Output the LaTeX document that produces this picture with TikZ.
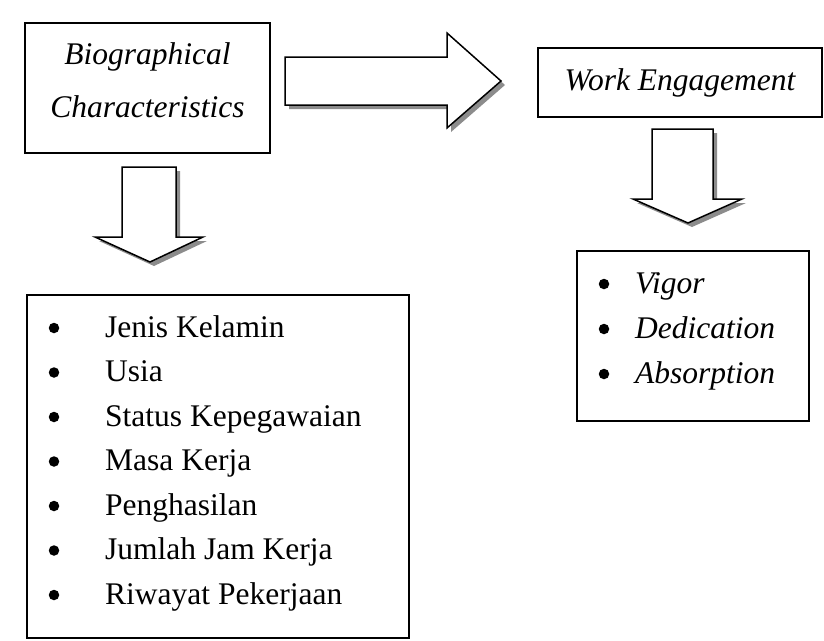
\documentclass[tikz,border=0pt]{standalone}
\usepackage{fontspec}
\setmainfont{Liberation Serif}
\tikzset{
  box/.style={draw, line width=1.5pt, fill=white, inner sep=0pt},
  bigarrow/.style={draw, line width=1.5pt, fill=white, line join=miter},
  arrowshadow/.style={fill=black!45},
  itemtext/.style={anchor=base west, inner sep=0pt, font=\fontsize{31.5}{45}\selectfont},
  itemdot/.style={circle, fill=black, inner sep=0pt, minimum size=10.5pt},
}
\begin{document}
\begin{tikzpicture}[x=1pt, y=-1pt]

  % background
  \fill[white] (0,0) rectangle (824,640);
  \useasboundingbox (0,0) rectangle (824,640);

  % 1. boxes
  \node[box, minimum width=245pt, minimum height=130pt] (bio) at (147.5,88) {};
  \node[align=center, inner sep=0pt,
        font=\fontsize{31.5}{53}\selectfont\itshape] (biotext) at (147.5,80)
        {Biographical\\Characteristics};
  \node[box, minimum width=284pt, minimum height=69pt,
        font=\fontsize{31.5}{45}\selectfont\itshape] (work) at (680,82.5)
        {Work Engagement};
  \node[box, minimum width=382pt, minimum height=343pt] (biolist) at (218,466.5) {};
  \node[box, minimum width=232pt, minimum height=170pt] (worklist) at (693,336) {};

  % 2. block arrows (shadow first)
  \foreach \s/\st in {4/arrowshadow, 0/bigarrow} {
    \path[\st, shift={(\s,\s)}] (285,57) -- (447,57) -- (447,33) -- (501,81)
      -- (447,128) -- (447,105) -- (285,105) -- cycle;
    \path[\st, shift={(\s,\s)}] (122,167) -- (176,167) -- (176,237) -- (203,237)
      -- (150,262) -- (95,237) -- (122,237) -- cycle;
    \path[\st, shift={(\s,\s)}] (652,129) -- (713,129) -- (713,199) -- (742,199)
      -- (688,223) -- (633,199) -- (652,199) -- cycle;
  }

  % 3. list items
  \foreach \txt [count=\i] in {Jenis Kelamin, Usia, Status Kepegawaian,
      Masa Kerja, Penghasilan, Jumlah Jam Kerja, Riwayat Pekerjaan} {
    \node[itemdot] (biodot\i) at (54,{328+44.5*(\i-1)}) {};
    \node[itemtext] (bioitem\i) at (105,{337+44.5*(\i-1)}) {\txt};
  }
  \foreach \txt [count=\i] in {Vigor, Dedication, Absorption} {
    \node[itemdot] (workdot\i) at (604,{284+45*(\i-1)}) {};
    \node[itemtext, font=\fontsize{31.5}{45}\selectfont\itshape] (workitem\i)
      at (635,{293+45*(\i-1)}) {\txt};
  }

\end{tikzpicture}
\end{document}
